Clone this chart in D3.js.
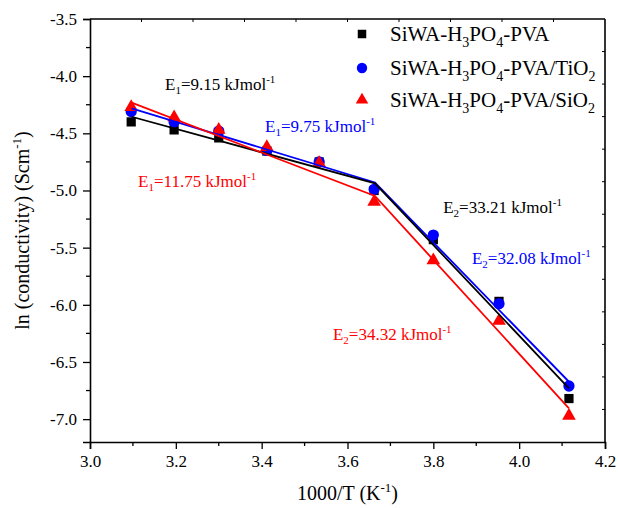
<!DOCTYPE html>
<html><head><meta charset="utf-8">
<script src="https://cdn.jsdelivr.net/npm/d3@7"></script>
<style>html,body{margin:0;padding:0;background:#fff}svg{display:block}svg text{font-family:"Liberation Serif","Times New Roman",serif}</style>
</head><body>
<svg id="c" width="618" height="508"></svg>
<script>
// ---- data ----
const invT = [3.096, 3.196, 3.300, 3.412, 3.534, 3.662, 3.800, 3.953, 4.116];
const lnSigmaPVA  = [-4.40, -4.47, -4.54, -4.655, -4.75, -5.00, -5.43, -5.97, -6.82];
const lnSigmaTiO2 = [-4.31, -4.40, -4.48, -4.65, -4.75, -4.99, -5.39, -5.99, -6.71];
const lnSigmaSiO2 = [-4.27, -4.36, -4.47, -4.62, -4.76, -5.10, -5.61, -6.14, -6.97];
// fitted piecewise lines: [x, y] at start, knee, end
const fitPVA  = [[3.097, -4.355], [3.664, -4.937], [4.116, -6.73]];
const fitTiO2 = [[3.097, -4.281], [3.664, -4.93], [4.116, -6.673]];
const fitSiO2 = [[3.097, -4.232], [3.664, -5.048], [4.116, -6.905]];
const xTicks = [3.0, 3.2, 3.4, 3.6, 3.8, 4.0, 4.2];
const yTicks = [-3.5, -4.0, -4.5, -5.0, -5.5, -6.0, -6.5, -7.0];
const colors = ["#000000", "#0000ff", "#ff0000"];
// annotation labels
const annotations = [
  {sub: "1", val: "9.15", s: 0, x: 3.175, y: -4.12},
  {sub: "1", val: "9.75", s: 1, x: 3.408, y: -4.49},
  {sub: "1", val: "11.75", s: 2, x: 3.112, y: -4.97},
  {sub: "2", val: "33.21", s: 0, x: 3.823, y: -5.20},
  {sub: "2", val: "32.08", s: 1, x: 3.89, y: -5.64},
  {sub: "2", val: "34.32", s: 2, x: 3.566, y: -6.31}
];

const FF = "Liberation Serif";
const svg = d3.select("#c");
const L = 90, R = 605, T = 19, B = 442;
const x = d3.scaleLinear().domain([3.0, 4.2]).range([L, R]);
const y = d3.scaleLinear().domain([-7.2, -3.5]).range([B, T]);

const xMinor = d3.range(3.1, 4.2, 0.2);
const yMinor = d3.range(-3.75, -7.2, -0.5);

const gx = svg.append("g").attr("transform", `translate(0,${B})`)
  .call(d3.axisBottom(x).tickValues(xTicks).tickSize(7).tickPadding(6));
gx.append("g").selectAll("line").data(xMinor).join("line")
  .attr("x1", d => x(d)).attr("x2", d => x(d)).attr("y1", 0).attr("y2", 4).attr("stroke", "#000").attr("stroke-width", 1.3);
const gy = svg.append("g").attr("transform", `translate(${L},0)`)
  .call(d3.axisLeft(y).tickValues(yTicks).tickSize(7).tickPadding(6));
gy.append("g").selectAll("line").data(yMinor).join("line")
  .attr("y1", d => y(d)).attr("y2", d => y(d)).attr("x1", 0).attr("x2", -4).attr("stroke", "#000").attr("stroke-width", 1.3);
[gx, gy].forEach(g => {
  g.attr("font-family", FF);
  g.select(".domain").attr("stroke-width", 1.6);
  g.selectAll(".tick line").attr("stroke-width", 1.3);
  g.selectAll("text").attr("font-size", 17).attr("font-family", FF).attr("fill", "#000");
});
gx.selectAll(".tick text").text(d => d.toFixed(1));
gy.selectAll(".tick text").text(d => (d < 0 ? "-" : "") + Math.abs(d).toFixed(1));

// top and right frame with small inward ticks
svg.append("line").attr("x1", L).attr("x2", R).attr("y1", T).attr("y2", T).attr("stroke", "#000").attr("stroke-width", 1.6);
svg.append("line").attr("x1", R).attr("x2", R).attr("y1", T).attr("y2", B).attr("stroke", "#000").attr("stroke-width", 1.6);
const topT = d3.range(1, 10).map(i => L + (R - L) * i / 10);
svg.append("g").selectAll("line").data(topT).join("line")
  .attr("x1", d => d).attr("x2", d => d).attr("y1", T).attr("y2", T + 3).attr("stroke", "#000").attr("stroke-width", 1);
const rightT = d3.range(1, 13).map(i => T + (B - T) * i / 13);
svg.append("g").selectAll("line").data(rightT).join("line")
  .attr("y1", d => d).attr("y2", d => d).attr("x1", R).attr("x2", R - 3).attr("stroke", "#000").attr("stroke-width", 1);

// markers
const symbols = [d3.symbolSquare, d3.symbolCircle, d3.symbolTriangle];
const sizes = [85, 100, 80];
const series = [lnSigmaPVA, lnSigmaTiO2, lnSigmaSiO2];
series.forEach((vals, i) => {
  svg.append("g").selectAll("path").data(vals).join("path")
    .attr("d", d3.symbol().type(symbols[i]).size(sizes[i]))
    .attr("transform", (d, j) => `translate(${x(invT[j])},${y(d)})`)
    .attr("fill", colors[i]);
});

// fit lines
const line = d3.line().x(d => x(d[0])).y(d => y(d[1]));
[[fitTiO2, 1], [fitPVA, 0], [fitSiO2, 2]].forEach(([f, i]) => {
  svg.append("path").attr("d", line(f)).attr("fill", "none").attr("stroke", colors[i]).attr("stroke-width", 1.8);
});

// annotations
annotations.forEach(a => {
  const t = svg.append("text").attr("x", x(a.x)).attr("y", y(a.y)).attr("font-size", 17)
    .attr("font-family", FF).attr("fill", colors[a.s]);
  t.append("tspan").text("E");
  t.append("tspan").attr("font-size", 11).attr("dy", 4).text(a.sub);
  t.append("tspan").attr("dy", -4).text("=" + a.val + " kJmol");
  t.append("tspan").attr("font-size", 11).attr("dy", -7).text("-1");
});

// legend
const legendLabels = [
  [["SiWA-H", 0], ["3", 1], ["PO", 0], ["4", 1], ["-PVA", 0]],
  [["SiWA-H", 0], ["3", 1], ["PO", 0], ["4", 1], ["-PVA/TiO", 0], ["2", 1]],
  [["SiWA-H", 0], ["3", 1], ["PO", 0], ["4", 1], ["-PVA/SiO", 0], ["2", 1]]
];
const legY = [34, 68, 100];
legendLabels.forEach((parts, i) => {
  svg.append("path").attr("d", d3.symbol().type(symbols[i]).size(sizes[i] * 0.85))
    .attr("transform", `translate(362,${legY[i]})`).attr("fill", colors[i]);
  const t = svg.append("text").attr("x", 390).attr("y", legY[i] + 7).attr("font-size", 21)
    .attr("font-family", FF).attr("fill", "#000");
  let prev = 0;
  parts.forEach(([s, sub]) => {
    const dy = sub ? 6 : (prev ? -6 : 0);
    t.append("tspan").attr("font-size", sub ? 14 : 21).attr("dy", dy).text(s);
    prev = sub;
  });
});

// axis titles
const xt = svg.append("text").attr("x", (L + R) / 2).attr("y", 500).attr("text-anchor", "middle")
  .attr("font-size", 20).attr("font-family", FF);
xt.append("tspan").text("1000/T (K");
xt.append("tspan").attr("font-size", 13).attr("dy", -8).text("-1");
xt.append("tspan").attr("dy", 8).text(")");
const yt = svg.append("text").attr("transform", `translate(29,${(T + B) / 2}) rotate(-90)`)
  .attr("text-anchor", "middle").attr("font-size", 20).attr("font-family", FF);
yt.append("tspan").text("ln (conductivity) (Scm");
yt.append("tspan").attr("font-size", 13).attr("dy", -8).text("-1");
yt.append("tspan").attr("dy", 8).text(")");
</script>
</body></html>
